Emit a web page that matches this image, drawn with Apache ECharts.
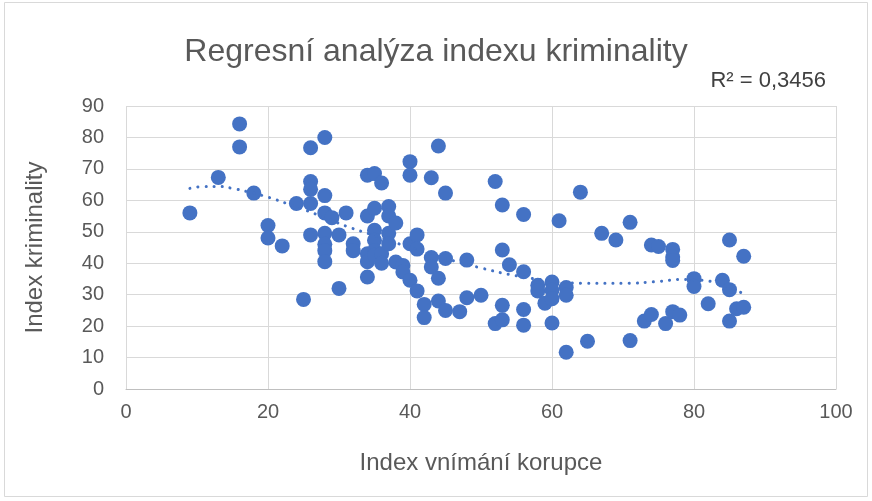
<!DOCTYPE html>
<html>
<head>
<meta charset="UTF-8">
<title>Regresní analýza</title>
<script type="text/javascript" src="https://cdn.jsdelivr.net/npm/echarts@6/dist/echarts.min.js"></script>
<style>
  html, body { margin: 0; padding: 0; background: #fff; }
  #container { width: 872px; height: 501px; }
</style>
</head>
<body>
<div id="container"></div>
<script type="text/javascript">
// index vnimani korupce (x) a index kriminality (y)
var corruptionIdx = [
  9, 13, 16, 16, 18, 20, 20, 22, 24, 25,
  26, 26, 26, 26, 26, 28, 28, 28, 28, 28, 28, 28,
  29, 30, 30, 31, 32, 32,
  34, 34, 34, 34, 34, 35, 35, 35, 35, 35, 35,
  36, 36, 36, 37, 37, 37, 37, 38, 38, 39, 39,
  40, 40, 40, 40, 41, 41, 41, 42, 42,
  43, 43, 43, 44, 44, 44, 45, 45, 45,
  47, 48, 48, 50, 52, 52, 53, 53, 53, 53,
  54, 56, 56, 56, 56, 58, 58, 59,
  60, 60, 60, 60, 61, 62, 62, 62,
  64, 65, 67, 69, 71, 71, 73, 74, 74,
  75, 76, 77, 77, 77, 77, 78,
  80, 80, 82, 84, 85, 85, 85, 86, 87, 87
];
var crimeIdx = [
  56, 67.3, 84.3, 77, 62.3, 52, 48, 45.5, 59, 28.5,
  76.7, 66, 63.5, 59, 49, 80, 61.5, 56, 49.5, 46, 44, 40.5,
  54.5, 49, 32, 56, 46.2, 44,
  68, 55, 43, 40.5, 35.6, 68.5, 57.5, 50.5, 47.3, 44, 42.5,
  65.5, 43, 40, 58, 55, 49.5, 46.2, 52.8, 40.4, 39.3, 37.2,
  72.3, 68, 46.2, 34.6, 49, 44.5, 31.2, 26.9, 22.7,
  67.2, 41.8, 38.8, 77.3, 35.2, 28, 62.3, 41.5, 25,
  24.6, 41, 29, 29.8, 66, 20.8, 58.5, 44.2, 26.6, 22,
  39.5, 55.5, 37.3, 25.3, 20.3, 33, 31.2, 27.3,
  34, 31.4, 28.7, 21, 53.5, 32.3, 29.8, 11.7,
  62.6, 15.2, 49.5, 47.4, 53, 15.4, 21.6, 45.8, 23.7,
  45.3, 20.8, 44.4, 42, 40.9, 24.6, 23.5,
  35.1, 32.6, 27.1, 34.6, 47.4, 31.6, 21.6, 25.5, 42.2, 26
];
// body polynomicke spojnice trendu
var trendX = [9, 11, 13, 15, 17, 20, 23, 27, 31, 35, 40, 45, 50, 55, 60, 65, 70, 75, 78, 81, 84, 87];
var trendY = [63.8, 64.4, 64.4, 63.8, 62.8, 61, 58.7, 55.4, 51.8, 48.8, 45, 41.5, 38.5, 36, 34.4, 33.6, 33.6, 34.2, 34.8, 34.6, 33, 30.3];

var chartTitle = 'Regresní analýza indexu kriminality';
var r2Label = 'R² = 0,3456';
var xTitle = 'Index vnímání korupce';
var yTitle = 'Index kriminality';

var points = [];
for (var i = 0; i < corruptionIdx.length; i++) {
  points.push([corruptionIdx[i], crimeIdx[i]]);
}
var trend = [];
for (var j = 0; j < trendX.length; j++) {
  trend.push([trendX[j], trendY[j]]);
}

var font = 'Liberation Sans';
var myChart = echarts.init(document.getElementById('container'));
myChart.setOption({
  animation: false,
  backgroundColor: '#ffffff',
  title: {
    text: chartTitle,
    left: 'center',
    top: 31,
    textStyle: { fontFamily: font, fontSize: 32, fontWeight: 'normal', color: '#595959' }
  },
  graphic: [
    {
      type: 'rect',
      shape: { x: 4.5, y: 2.5, width: 863, height: 494 },
      style: { fill: 'none', stroke: '#d9d9d9', lineWidth: 1 }
    },
    {
      type: 'text',
      right: 46,
      top: 70,
      style: { text: r2Label, font: '22px ' + font, fill: '#404040' }
    }
  ],
  grid: { left: 126, right: 36, top: 106, bottom: 112 },
  xAxis: {
    type: 'value',
    min: 0,
    max: 100,
    interval: 20,
    name: xTitle,
    nameLocation: 'middle',
    nameGap: 62,
    nameTextStyle: { fontFamily: font, fontSize: 24, color: '#595959' },
    axisLine: { show: true, lineStyle: { color: '#bfbfbf', width: 1 } },
    axisTick: { show: false },
    axisLabel: { fontFamily: font, fontSize: 20, color: '#595959', margin: 13 },
    splitLine: { show: true, lineStyle: { color: '#d9d9d9', width: 1 } }
  },
  yAxis: {
    type: 'value',
    min: 0,
    max: 90,
    interval: 10,
    name: yTitle,
    nameLocation: 'middle',
    nameGap: 79,
    nameRotate: 90,
    nameTextStyle: { fontFamily: font, fontSize: 24, color: '#595959' },
    axisLine: { show: false },
    axisTick: { show: false },
    axisLabel: { fontFamily: font, fontSize: 20, color: '#595959', margin: 22 },
    splitLine: { show: true, lineStyle: { color: '#d9d9d9', width: 1 } }
  },
  series: [
    {
      name: 'data',
      type: 'scatter',
      data: points,
      symbolSize: 15,
      itemStyle: { color: '#4472C4', opacity: 1 },
      z: 3
    },
    {
      name: 'trend',
      type: 'line',
      data: trend,
      smooth: true,
      symbol: 'none',
      lineStyle: { color: '#4472C4', width: 3, type: [0.1, 8], cap: 'round' },
      z: 4
    }
  ]
});
</script>
</body>
</html>
